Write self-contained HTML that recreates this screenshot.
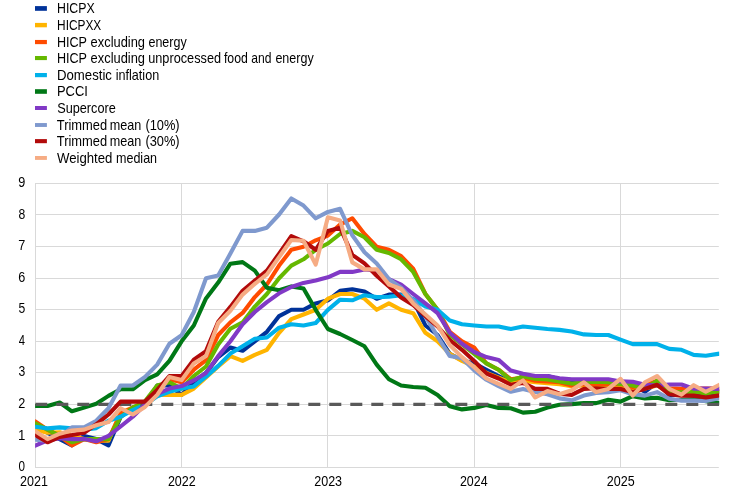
<!DOCTYPE html>
<html><head><meta charset="utf-8"><title>Chart</title>
<style>html,body{margin:0;padding:0;background:#fff;}body{width:745px;height:492px;position:relative;overflow:hidden;font-family:"Liberation Sans",sans-serif;}</style>
</head><body>
<svg width="745" height="492" viewBox="0 0 745 492" style="position:absolute;left:0;top:0;will-change:transform">
<line x1="35.3" y1="467.5" x2="718.8" y2="467.5" stroke="#d9d9d9" stroke-width="1"/>
<line x1="35.3" y1="435.5" x2="718.8" y2="435.5" stroke="#d9d9d9" stroke-width="1"/>
<line x1="35.3" y1="404.5" x2="718.8" y2="404.5" stroke="#d9d9d9" stroke-width="1"/>
<line x1="35.3" y1="372.5" x2="718.8" y2="372.5" stroke="#d9d9d9" stroke-width="1"/>
<line x1="35.3" y1="341.5" x2="718.8" y2="341.5" stroke="#d9d9d9" stroke-width="1"/>
<line x1="35.3" y1="309.5" x2="718.8" y2="309.5" stroke="#d9d9d9" stroke-width="1"/>
<line x1="35.3" y1="278.5" x2="718.8" y2="278.5" stroke="#d9d9d9" stroke-width="1"/>
<line x1="35.3" y1="246.5" x2="718.8" y2="246.5" stroke="#d9d9d9" stroke-width="1"/>
<line x1="35.3" y1="214.5" x2="718.8" y2="214.5" stroke="#d9d9d9" stroke-width="1"/>
<line x1="35.3" y1="183.5" x2="718.8" y2="183.5" stroke="#d9d9d9" stroke-width="1"/>
<line x1="35.5" y1="183" x2="35.5" y2="468" stroke="#d9d9d9" stroke-width="1"/>
<line x1="181.5" y1="183" x2="181.5" y2="468" stroke="#d9d9d9" stroke-width="1"/>
<line x1="327.5" y1="183" x2="327.5" y2="468" stroke="#d9d9d9" stroke-width="1"/>
<line x1="474.5" y1="183" x2="474.5" y2="468" stroke="#d9d9d9" stroke-width="1"/>
<line x1="620.5" y1="183" x2="620.5" y2="468" stroke="#d9d9d9" stroke-width="1"/>
<clipPath id="c"><rect x="35.1" y="170" width="684.0999999999999" height="300"/></clipPath>
<g clip-path="url(#c)" fill="none" stroke-linejoin="round" stroke-linecap="butt">
<polyline points="33.5,423.3 35.3,423.3 47.5,432.8 59.7,439.1 71.9,445.4 84.1,435.9 96.3,439.1 108.5,445.4 120.6,417.0 132.8,407.6 145.0,404.4 157.2,385.5 169.4,385.5 181.6,394.9 193.8,382.3 206.0,372.9 218.2,357.1 230.4,347.6 242.6,350.8 254.8,341.3 266.9,331.8 279.1,316.1 291.3,309.8 303.5,309.8 315.7,303.4 327.9,300.3 340.1,290.8 352.3,289.2 364.5,291.5 376.7,298.7 388.9,294.6 401.1,294.6 413.2,300.3 425.4,325.5 437.6,335.0 449.8,353.9 462.0,360.2 474.2,363.4 486.4,369.7 498.6,376.0 510.8,382.3 523.0,376.0 535.2,376.0 547.4,376.0 559.5,379.2 571.7,382.3 583.9,382.3 596.1,382.3 608.3,382.3 620.5,382.3 632.7,385.5 644.9,391.8 657.1,382.3 669.3,394.9 681.5,394.9 693.7,394.9 705.8,394.9 718.0,391.8 719.9,391.3" stroke="#003299" stroke-width="4.1"/>
<polyline points="33.5,429.6 35.3,429.6 47.5,432.8 59.7,432.2 71.9,435.9 84.1,439.1 96.3,440.7 108.5,440.7 120.6,412.3 132.8,407.6 145.0,406.0 157.2,394.9 169.4,394.9 181.6,394.9 193.8,388.6 206.0,377.6 218.2,366.5 230.4,356.1 242.6,360.9 254.8,354.9 266.9,349.8 279.1,332.8 291.3,319.2 303.5,314.5 315.7,309.8 327.9,298.7 340.1,294.0 352.3,294.0 364.5,298.7 376.7,309.8 388.9,303.4 401.1,309.8 413.2,313.2 425.4,332.8 437.6,341.3 449.8,353.9 462.0,360.9 474.2,366.5 486.4,372.9 498.6,377.6 510.8,382.3 523.0,380.7 535.2,382.3 547.4,383.3 559.5,384.2 571.7,386.1 583.9,385.5 596.1,385.5 608.3,386.1 620.5,387.0 632.7,388.6 644.9,388.6 657.1,385.5 669.3,391.8 681.5,391.8 693.7,391.8 705.8,391.8 718.0,391.8 719.9,391.8" stroke="#FFB400" stroke-width="4.1"/>
<polyline points="33.5,421.4 35.3,421.4 47.5,429.6 59.7,435.9 71.9,445.4 84.1,439.1 96.3,442.3 108.5,439.1 120.6,413.9 132.8,407.6 145.0,404.4 157.2,388.6 169.4,379.2 181.6,382.3 193.8,369.7 206.0,360.2 218.2,335.0 230.4,322.4 242.6,312.9 254.8,297.1 266.9,284.5 279.1,265.6 291.3,249.8 303.5,246.7 315.7,240.3 327.9,235.6 340.1,224.6 352.3,218.3 364.5,234.0 376.7,246.7 388.9,249.8 401.1,256.1 413.2,268.7 425.4,294.0 437.6,309.8 449.8,331.8 462.0,341.3 474.2,347.6 486.4,363.4 498.6,369.7 510.8,379.2 523.0,377.6 535.2,380.7 547.4,381.4 559.5,382.3 571.7,385.5 583.9,384.2 596.1,384.2 608.3,383.6 620.5,383.9 632.7,387.0 644.9,385.5 657.1,380.7 669.3,388.3 681.5,388.9 693.7,388.6 705.8,388.6 718.0,388.6 719.9,388.6" stroke="#FF4B00" stroke-width="4.1"/>
<polyline points="33.5,423.3 35.3,423.3 47.5,429.6 59.7,435.9 71.9,442.3 84.1,439.1 96.3,439.1 108.5,439.1 120.6,417.0 132.8,407.6 145.0,401.2 157.2,385.5 169.4,382.3 181.6,388.6 193.8,376.0 206.0,366.5 218.2,344.5 230.4,328.7 242.6,322.4 254.8,306.6 266.9,294.0 279.1,278.2 291.3,265.6 303.5,259.3 315.7,249.8 327.9,243.5 340.1,234.0 352.3,230.9 364.5,237.2 376.7,249.8 388.9,253.0 401.1,259.3 413.2,271.9 425.4,294.0 437.6,309.8 449.8,335.0 462.0,344.5 474.2,353.9 486.4,363.4 498.6,369.7 510.8,380.1 523.0,376.6 535.2,378.8 547.4,379.5 559.5,381.4 571.7,383.6 583.9,382.3 596.1,381.7 608.3,382.3 620.5,383.9 632.7,385.5 644.9,388.6 657.1,380.7 669.3,391.5 681.5,392.4 693.7,391.5 705.8,393.7 718.0,391.5 719.9,391.1" stroke="#65B800" stroke-width="4.1"/>
<polyline points="33.5,426.8 35.3,426.8 47.5,428.4 59.7,427.4 71.9,428.4 84.1,429.6 96.3,428.1 108.5,420.8 120.6,416.7 132.8,410.1 145.0,404.7 157.2,396.2 169.4,391.8 181.6,388.6 193.8,386.4 206.0,376.6 218.2,365.9 230.4,353.6 242.6,346.3 254.8,338.8 266.9,337.5 279.1,327.7 291.3,324.3 303.5,325.5 315.7,323.0 327.9,309.8 340.1,299.7 352.3,300.3 364.5,295.2 376.7,297.1 388.9,296.8 401.1,295.2 413.2,299.0 425.4,306.6 437.6,309.8 449.8,320.5 462.0,324.3 474.2,325.5 486.4,326.5 498.6,326.5 510.8,329.0 523.0,326.5 535.2,327.7 547.4,329.0 559.5,329.9 571.7,331.5 583.9,334.4 596.1,335.0 608.3,335.0 620.5,339.7 632.7,344.1 644.9,344.1 657.1,344.1 669.3,348.9 681.5,349.8 693.7,354.9 705.8,355.8 718.0,353.9 719.9,353.6" stroke="#00B1EA" stroke-width="4.1"/>
<polyline points="33.5,406.0 35.3,406.0 47.5,406.0 59.7,402.5 71.9,411.3 84.1,407.6 96.3,403.8 108.5,395.9 120.6,389.3 132.8,389.3 145.0,380.1 157.2,374.4 169.4,360.9 181.6,341.3 193.8,325.5 206.0,298.4 218.2,282.6 230.4,263.7 242.6,262.1 254.8,270.6 266.9,287.7 279.1,290.2 291.3,286.4 303.5,288.6 315.7,309.8 327.9,329.0 340.1,334.0 352.3,340.0 364.5,346.3 376.7,364.6 388.9,379.2 401.1,385.5 413.2,387.0 425.4,387.7 437.6,394.9 449.8,406.3 462.0,409.4 474.2,407.9 486.4,405.0 498.6,407.9 510.8,408.3 523.0,412.6 535.2,411.7 547.4,407.6 559.5,404.7 571.7,404.1 583.9,403.1 596.1,403.1 608.3,399.7 620.5,401.6 632.7,396.2 644.9,398.4 657.1,397.8 669.3,400.3 681.5,399.7 693.7,399.0 705.8,401.2 718.0,402.8 719.9,403.1" stroke="#007816" stroke-width="4.1"/>
<line x1="35.3" y1="404.4" x2="719.8" y2="404.4" stroke="#595959" stroke-width="3.2" stroke-dasharray="12 9"/>
<polyline points="33.5,445.7 35.3,445.7 47.5,440.4 59.7,438.2 71.9,439.1 84.1,439.1 96.3,441.3 108.5,435.9 120.6,426.5 132.8,416.7 145.0,404.7 157.2,394.0 169.4,388.6 181.6,386.1 193.8,380.4 206.0,372.9 218.2,356.1 230.4,341.3 242.6,324.3 254.8,312.0 266.9,302.2 279.1,293.3 291.3,287.0 303.5,282.9 315.7,280.4 327.9,277.3 340.1,271.9 352.3,271.9 364.5,269.4 376.7,270.6 388.9,279.1 401.1,284.5 413.2,294.0 425.4,303.4 437.6,313.2 449.8,332.8 462.0,343.8 474.2,352.0 486.4,357.1 498.6,359.9 510.8,370.6 523.0,373.8 535.2,376.0 547.4,376.0 559.5,378.2 571.7,379.2 583.9,379.2 596.1,379.2 608.3,379.2 620.5,381.4 632.7,381.7 644.9,384.8 657.1,385.5 669.3,384.5 681.5,384.5 693.7,388.6 705.8,388.6 718.0,388.9 719.9,389.0" stroke="#8139C6" stroke-width="4.1"/>
<polyline points="33.5,439.7 35.3,439.7 47.5,440.7 59.7,436.9 71.9,427.4 84.1,427.4 96.3,420.8 108.5,408.2 120.6,385.5 132.8,385.5 145.0,377.0 157.2,364.6 169.4,343.8 181.6,335.3 193.8,312.0 206.0,278.2 218.2,275.4 230.4,253.6 242.6,230.9 254.8,230.9 266.9,227.7 279.1,214.5 291.3,198.4 303.5,205.6 315.7,218.3 327.9,211.9 340.1,208.8 352.3,235.3 364.5,252.3 376.7,263.4 388.9,279.1 401.1,287.7 413.2,300.3 425.4,316.1 437.6,336.6 449.8,356.1 462.0,358.3 474.2,370.3 486.4,379.8 498.6,386.1 510.8,391.8 523.0,388.9 535.2,392.1 547.4,394.3 559.5,398.4 571.7,400.3 583.9,395.6 596.1,393.0 608.3,392.1 620.5,390.2 632.7,394.3 644.9,395.6 657.1,392.1 669.3,398.7 681.5,400.6 693.7,400.6 705.8,400.9 718.0,398.4 719.9,398.0" stroke="#7F99CE" stroke-width="4.1"/>
<polyline points="33.5,435.0 35.3,435.0 47.5,442.3 59.7,436.9 71.9,435.0 84.1,432.8 96.3,424.3 108.5,414.5 120.6,401.6 132.8,401.6 145.0,401.6 157.2,389.9 169.4,376.0 181.6,376.0 193.8,359.6 206.0,351.1 218.2,321.7 230.4,306.9 242.6,290.8 254.8,280.7 266.9,270.6 279.1,253.6 291.3,236.2 303.5,241.3 315.7,249.8 327.9,230.9 340.1,227.7 352.3,254.9 364.5,263.4 376.7,275.7 388.9,286.4 401.1,297.4 413.2,305.0 425.4,316.1 437.6,326.5 449.8,340.0 462.0,349.8 474.2,360.9 486.4,373.5 498.6,378.5 510.8,384.8 523.0,382.9 535.2,388.9 547.4,388.9 559.5,393.7 571.7,394.9 583.9,388.9 596.1,388.3 608.3,388.9 620.5,388.9 632.7,392.1 644.9,388.9 657.1,384.8 669.3,394.3 681.5,395.6 693.7,395.6 705.8,397.5 718.0,395.6 719.9,395.3" stroke="#B20A0A" stroke-width="4.1"/>
<polyline points="33.5,431.2 35.3,431.2 47.5,439.1 59.7,433.7 71.9,430.6 84.1,429.6 96.3,425.2 108.5,422.1 120.6,408.2 132.8,414.5 145.0,406.9 157.2,394.9 169.4,377.0 181.6,380.1 193.8,363.4 206.0,356.1 218.2,323.0 230.4,310.7 242.6,294.6 254.8,283.9 266.9,274.4 279.1,257.1 291.3,240.0 303.5,240.7 315.7,264.6 327.9,217.3 340.1,220.5 352.3,262.4 364.5,269.4 376.7,269.4 388.9,284.5 401.1,288.9 413.2,303.4 425.4,314.5 437.6,325.5 449.8,345.1 462.0,357.1 474.2,367.2 486.4,378.5 498.6,383.9 510.8,388.9 523.0,380.4 535.2,397.5 547.4,391.1 559.5,394.3 571.7,390.2 583.9,382.3 596.1,392.1 608.3,388.9 620.5,378.8 632.7,395.6 644.9,382.3 657.1,376.0 669.3,388.9 681.5,394.6 693.7,385.2 705.8,391.8 718.0,385.5 719.9,384.5" stroke="#F6AC84" stroke-width="4.1"/>
</g>
<text transform="translate(18.46,471.00) scale(0.8769,1.03)" font-family="Liberation Sans, sans-serif" font-size="13.33" fill="#000">0</text>
<text transform="translate(17.91,440.45) scale(0.9913,1.03)" font-family="Liberation Sans, sans-serif" font-size="13.33" fill="#000">1</text>
<text transform="translate(18.19,407.90) scale(0.9500,1.03)" font-family="Liberation Sans, sans-serif" font-size="13.33" fill="#000">2</text>
<text transform="translate(18.44,376.35) scale(0.9120,1.03)" font-family="Liberation Sans, sans-serif" font-size="13.33" fill="#000">3</text>
<text transform="translate(18.69,344.80) scale(0.8444,1.03)" font-family="Liberation Sans, sans-serif" font-size="13.33" fill="#000">4</text>
<text transform="translate(18.44,313.25) scale(0.9120,1.03)" font-family="Liberation Sans, sans-serif" font-size="13.33" fill="#000">5</text>
<text transform="translate(18.19,281.70) scale(0.9500,1.03)" font-family="Liberation Sans, sans-serif" font-size="13.33" fill="#000">6</text>
<text transform="translate(18.19,250.15) scale(0.9500,1.03)" font-family="Liberation Sans, sans-serif" font-size="13.33" fill="#000">7</text>
<text transform="translate(18.44,218.60) scale(0.9120,1.03)" font-family="Liberation Sans, sans-serif" font-size="13.33" fill="#000">8</text>
<text transform="translate(18.19,187.05) scale(0.9500,1.03)" font-family="Liberation Sans, sans-serif" font-size="13.33" fill="#000">9</text>
<text transform="translate(19.99,486.00) scale(0.9416,1.03)" font-family="Liberation Sans, sans-serif" font-size="13.33" fill="#000">2021</text>
<text transform="translate(167.89,486.00) scale(0.9416,1.03)" font-family="Liberation Sans, sans-serif" font-size="13.33" fill="#000">2022</text>
<text transform="translate(314.19,486.00) scale(0.9416,1.03)" font-family="Liberation Sans, sans-serif" font-size="13.33" fill="#000">2023</text>
<text transform="translate(459.90,486.00) scale(0.9333,1.03)" font-family="Liberation Sans, sans-serif" font-size="13.33" fill="#000">2024</text>
<text transform="translate(606.79,486.00) scale(0.9416,1.03)" font-family="Liberation Sans, sans-serif" font-size="13.33" fill="#000">2025</text>
<rect x="35" y="6.1" width="11.9" height="4.7" fill="#003299"/>
<text transform="translate(57.02,13.10) scale(0.9261,1.03)" font-family="Liberation Sans, sans-serif" font-size="13.33" fill="#000">HICPX</text>
<rect x="35" y="22.9" width="11.9" height="4.4" fill="#FFB400"/>
<text transform="translate(57.06,29.90) scale(0.8922,1.03)" font-family="Liberation Sans, sans-serif" font-size="13.33" fill="#000">HICPXX</text>
<rect x="35" y="39.95" width="11.9" height="4.2" fill="#FF4B00"/>
<text transform="translate(56.95,47.00) scale(0.9450,1.03)" font-family="Liberation Sans, sans-serif" font-size="13.33" fill="#000">HICP</text>
<text transform="translate(90.62,47.00) scale(0.9673,1.03)" font-family="Liberation Sans, sans-serif" font-size="13.33" fill="#000">excluding</text>
<text transform="translate(148.43,47.00) scale(0.9400,1.03)" font-family="Liberation Sans, sans-serif" font-size="13.33" fill="#000">energy</text>
<rect x="35" y="56.0" width="11.9" height="4.1" fill="#65B800"/>
<text transform="translate(56.95,62.90) scale(0.9450,1.03)" font-family="Liberation Sans, sans-serif" font-size="13.33" fill="#000">HICP</text>
<text transform="translate(90.62,62.90) scale(0.9673,1.03)" font-family="Liberation Sans, sans-serif" font-size="13.33" fill="#000">excluding</text>
<text transform="translate(148.18,62.90) scale(0.9552,1.03)" font-family="Liberation Sans, sans-serif" font-size="13.33" fill="#000">unprocessed</text>
<text transform="translate(223.92,62.90) scale(0.9232,1.03)" font-family="Liberation Sans, sans-serif" font-size="13.33" fill="#000">food</text>
<text transform="translate(251.30,62.90) scale(0.9084,1.03)" font-family="Liberation Sans, sans-serif" font-size="13.33" fill="#000">and</text>
<text transform="translate(275.38,62.90) scale(0.9412,1.03)" font-family="Liberation Sans, sans-serif" font-size="13.33" fill="#000">energy</text>
<rect x="35" y="73.0" width="11.9" height="4.2" fill="#00B1EA"/>
<text transform="translate(56.91,79.50) scale(0.9907,1.03)" font-family="Liberation Sans, sans-serif" font-size="13.33" fill="#000">Domestic</text>
<text transform="translate(115.70,79.50) scale(0.9466,1.03)" font-family="Liberation Sans, sans-serif" font-size="13.33" fill="#000">inflation</text>
<rect x="35" y="89.2" width="11.9" height="4.6" fill="#007816"/>
<text transform="translate(56.93,96.10) scale(0.9729,1.03)" font-family="Liberation Sans, sans-serif" font-size="13.33" fill="#000">PCCI</text>
<rect x="35" y="106.0" width="11.9" height="4.0" fill="#8139C6"/>
<text transform="translate(57.18,112.70) scale(0.9544,1.03)" font-family="Liberation Sans, sans-serif" font-size="13.33" fill="#000">Supercore</text>
<rect x="35" y="123.05" width="11.9" height="3.9" fill="#7F99CE"/>
<text transform="translate(56.76,130.30) scale(0.9686,1.03)" font-family="Liberation Sans, sans-serif" font-size="13.33" fill="#000">Trimmed</text>
<text transform="translate(109.80,130.30) scale(0.9476,1.03)" font-family="Liberation Sans, sans-serif" font-size="13.33" fill="#000">mean</text>
<text transform="translate(145.38,130.30) scale(0.9632,1.03)" font-family="Liberation Sans, sans-serif" font-size="13.33" fill="#000">(10%)</text>
<rect x="35" y="139.1" width="11.9" height="4.1" fill="#B20A0A"/>
<text transform="translate(56.76,146.40) scale(0.9686,1.03)" font-family="Liberation Sans, sans-serif" font-size="13.33" fill="#000">Trimmed</text>
<text transform="translate(109.80,146.40) scale(0.9476,1.03)" font-family="Liberation Sans, sans-serif" font-size="13.33" fill="#000">mean</text>
<text transform="translate(145.38,146.40) scale(0.9632,1.03)" font-family="Liberation Sans, sans-serif" font-size="13.33" fill="#000">(30%)</text>
<rect x="35" y="156.0" width="11.9" height="3.9" fill="#F6AC84"/>
<text transform="translate(56.95,163.20) scale(0.9900,1.03)" font-family="Liberation Sans, sans-serif" font-size="13.33" fill="#000">Weighted</text>
<text transform="translate(115.96,163.20) scale(0.9413,1.03)" font-family="Liberation Sans, sans-serif" font-size="13.33" fill="#000">median</text>
</svg>
</body></html>
